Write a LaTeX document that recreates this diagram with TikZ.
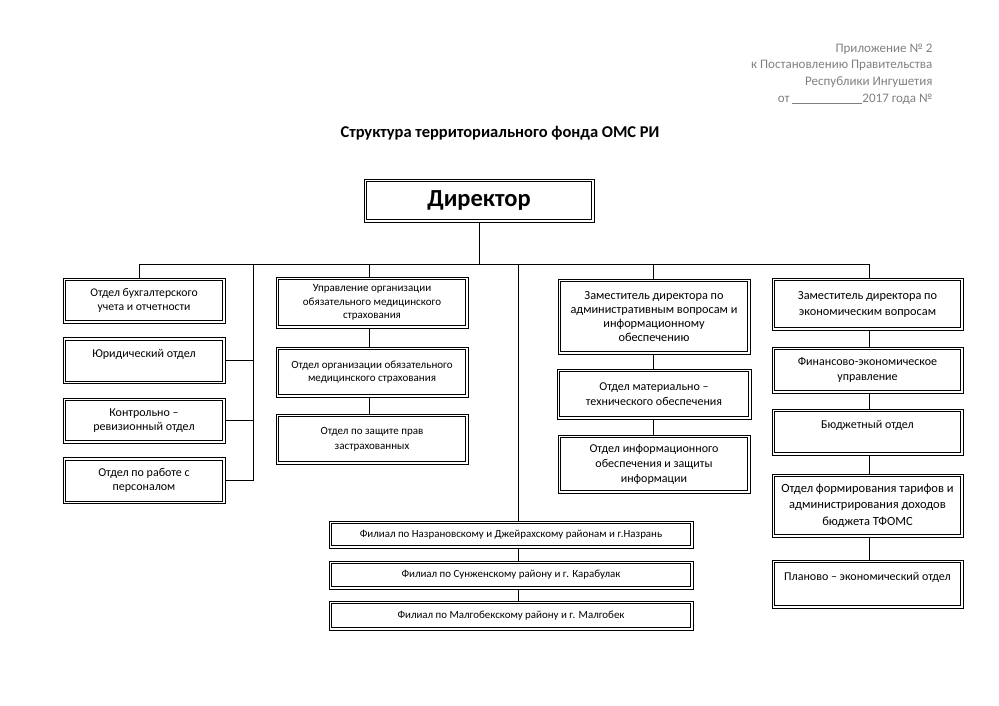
\documentclass[tikz,border=0pt]{standalone}
\usepackage{fontspec}
\setmainfont{Carlito}
\usepackage{tikz}
\usetikzlibrary{calc}
\definecolor{hdrgray}{gray}{0.5}

\begin{document}
\begin{tikzpicture}[x=1pt,y=1pt,line width=0.6pt,
	dept/.style={draw,line width=0.8pt,align=center,inner sep=1pt,font=\fontsize{12}{14.5}\selectfont,
		path picture={\draw[line width=0.5pt] ([shift={(2.4pt,2.4pt)}]path picture bounding box.south west) rectangle ([shift={(-2.4pt,-2.4pt)}]path picture bounding box.north east);}},
	small dept/.style={dept,font=\fontsize{11}{13.5}\selectfont},
	deputy/.style={dept,font=\fontsize{12.3}{14.5}\selectfont},
	branch/.style={dept,minimum width=364pt,font=\fontsize{10.9}{13}\selectfont}]

				\useasboundingbox (0,0) rectangle (999,-705);

				\node[anchor=north east,align=right,text=hdrgray,font=\fontsize{13}{16.7}\selectfont] (hdr) at (936,-40) {Приложение № 2\\к Постановлению Правительства\\Республики Ингушетия\\от \raisebox{-1.5pt}{\rule{70pt}{0.6pt}}2017 года №};
				\node[font=\bfseries\fontsize{16.5}{20}\selectfont] (title) at (500,-133) {Структура территориального фонда ОМС РИ};

				\node[dept,minimum width=230pt,minimum height=43pt,font=\bfseries\fontsize{24.5}{28}\selectfont] (dir) at (479,-200.5) {Директор};

				\node[dept,minimum width=162pt,minimum height=45pt,font=\fontsize{11.7}{14}\selectfont] (buh) at (144,-300.5) {Отдел бухгалтерского\\учета и отчетности};
				\node[dept,minimum width=162pt,minimum height=46pt] (jur) [below of = buh,node distance=60pt] {Юридический отдел\\~};
				\node[dept,minimum width=162pt,minimum height=45pt] (kon) [below of = jur,node distance=60pt] {Контрольно –\\ревизионный отдел};
				\node[dept,minimum width=162pt,minimum height=46pt] (kad) [below of = kon,node distance=60pt] {Отдел по работе с\\персоналом};

				\node[small dept,minimum width=192pt,minimum height=51pt] (upr) at (372,-302.5) {Управление организации\\обязательного медицинского\\страхования};
				\node[small dept,minimum width=192pt,minimum height=50pt] (oms) [below of = upr,node distance=69.5pt] {Отдел организации обязательного\\медицинского страхования};
				\node[small dept,minimum width=192pt,minimum height=50pt,font=\fontsize{11}{15}\selectfont] (zpr) [below of = oms,node distance=67pt] {Отдел по защите прав\\застрахованных};

				\node[deputy,minimum width=192pt,minimum height=75pt,font=\fontsize{12.3}{13.8}\selectfont] (zad) at (654,-316.5) {Заместитель директора по\\административным вопросам и\\информационному\\обеспечению};
				\node[dept,minimum width=194pt,minimum height=50pt] (mto) [below of = zad,node distance=77.5pt] {Отдел материально –\\технического обеспечения};
				\node[dept,minimum width=192pt,minimum height=58pt,font=\fontsize{12}{15}\selectfont] (inf) [below of = mto,node distance=70pt] {Отдел информационного\\обеспечения и защиты\\информации};

				\node[deputy,minimum width=191pt,minimum height=52pt,font=\fontsize{12.3}{16}\selectfont] (zek) at (867.5,-304) {Заместитель директора по\\экономическим вопросам};
				\node[dept,minimum width=191pt,minimum height=46pt,font=\fontsize{12}{15}\selectfont] (fin) [below of = zek,node distance=66pt] {Финансово-экономическое\\управление};
				\node[dept,minimum width=191pt,minimum height=46pt] (bud) [below of = fin,node distance=62pt] {Бюджетный отдел\\~};
				\node[dept,minimum width=191pt,minimum height=63pt,font=\fontsize{12.5}{16.5}\selectfont] (tar) [below of = bud,node distance=73.5pt] {Отдел формирования тарифов и\\администрирования доходов\\бюджета ТФОМС};
				\node[dept,minimum width=191pt,minimum height=48pt] (pla) [below of = tar,node distance=78.5pt] {Планово – экономический отдел\\~};

				\node[branch,minimum height=27pt] (fn) at (511,-534.5) {Филиал по Назрановскому и Джейрахскому районам и г.Назрань};
				\node[branch,minimum height=28pt] (fs) [below of = fn,node distance=40.5pt] {Филиал по Сунженскому району и г. Карабулак};
				\node[branch,minimum height=29pt] (fm) [below of = fs,node distance=40.5pt] {Филиал по Малгобекскому району и г. Малгобек};

				\coordinate (c1) at (139,-264);
				\coordinate (c2) at (369,-264);
				\coordinate (lv) at (253,-264);
				\coordinate (bv) at (518,-264);
				\coordinate (c3) at (653,-264);
				\coordinate (c4) at (869,-264);

				\draw (dir) -- (dir |- c1);
				\draw (c1) -- (c4);
				\draw (c1) -- (c1 |- buh.north);
				\draw (lv) |- (kad.east);
				\draw (jur.east) -- (jur.east -| lv);
				\draw (kon.east) -- (kon.east -| lv);
				\draw (c2) -- (c2 |- upr.north);
				\draw (c2 |- upr.south) -- (c2 |- oms.north);
				\draw (c2 |- oms.south) -- (c2 |- zpr.north);
				\draw (bv) -- (bv |- fn.north);
				\draw (bv |- fn.south) -- (bv |- fs.north);
				\draw (bv |- fs.south) -- (bv |- fm.north);
				\draw (c3) -- (c3 |- zad.north);
				\draw (c3 |- zad.south) -- (c3 |- mto.north);
				\draw (c3 |- mto.south) -- (c3 |- inf.north);
				\draw (c4) -- (c4 |- zek.north);
				\draw (c4 |- zek.south) -- (c4 |- fin.north);
				\draw (c4 |- fin.south) -- (c4 |- bud.north);
				\draw (c4 |- bud.south) -- (c4 |- tar.north);
				\draw (c4 |- tar.south) -- (c4 |- pla.north);

				\end{tikzpicture}
\end{document}
